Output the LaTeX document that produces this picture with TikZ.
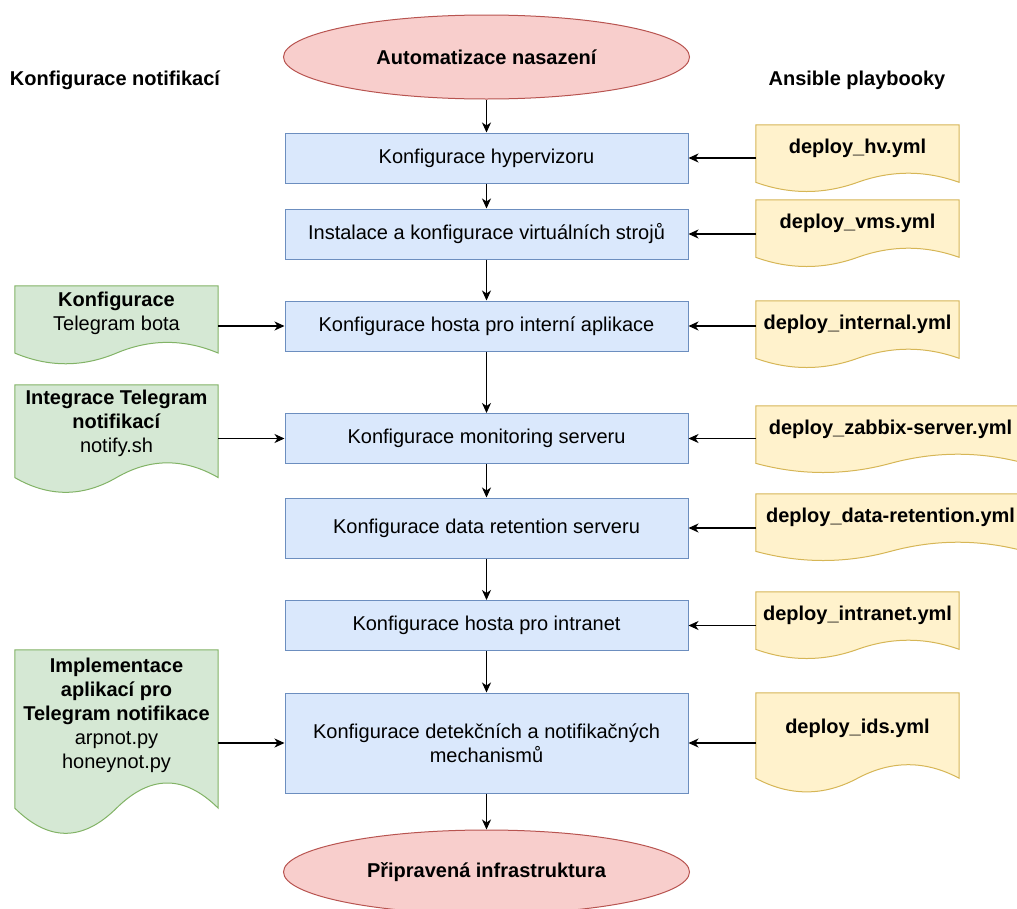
\documentclass[tikz,border=0pt]{standalone}
\usepackage{fontspec}
\setmainfont{Liberation Sans}
\usepackage{xcolor}
\usetikzlibrary{positioning,calc,arrows.meta,shapes.geometric,backgrounds}
\definecolor{stepfill}{HTML}{DAE8FC}
\definecolor{stepline}{HTML}{6C8EBF}
\definecolor{notefill}{HTML}{D5E8D4}
\definecolor{noteline}{HTML}{82B366}
\definecolor{ymlfill}{HTML}{FFF2CC}
\definecolor{ymlline}{HTML}{D6B656}
\definecolor{endfill}{HTML}{F8CECC}
\definecolor{endline}{HTML}{B85450}
\tikzset{
  flowfont/.style={font=\fontsize{20}{24}\selectfont},
  stepbox/.style={draw=stepline, fill=stepfill, line width=1pt, minimum width=403pt,
    minimum height=50pt, inner sep=0pt, align=center},
  startend/.style={ellipse, draw=endline, fill=endfill, line width=1pt, minimum width=406pt,
    minimum height=84pt, inner sep=0pt, font=\fontsize{20}{24}\selectfont\bfseries},
  docarea/.style={inner sep=0pt, align=center, minimum width=203pt},
  ymlfile/.style={docarea, font=\fontsize{20}{24}\selectfont\bfseries},
  notefile/.style={docarea},
  ymlshape/.style={draw=ymlline, fill=ymlfill, line width=1pt},
  noteshape/.style={draw=noteline, fill=notefill, line width=1pt},
  flowarrow/.style={-{Stealth[length=10pt, width=9pt, inset=3pt]}, line width=1.2pt},
  header/.style={font=\fontsize{20}{24}\selectfont\bfseries},
}
% wavy document outline behind a node (node = upper 70% of the shape)
\newcommand{\docoutline}[2]{%
  \path[#2] let \p1=(#1.north west), \p2=(#1.south east),
    \n1={(\y1-\y2)/0.7}, \n2={\x2-\x1} in
    (\x1,\y1) -- (\x2,\y1) -- (\x2,\y1-0.85*\n1)
    .. controls (\x1+0.8333*\n2,\y1-0.67*\n1) and (\x1+0.6667*\n2,\y1-0.67*\n1)
    .. (\x1+0.5*\n2,\y1-0.85*\n1)
    .. controls (\x1+0.3333*\n2,\y1-1.03*\n1) and (\x1+0.1667*\n2,\y1-1.03*\n1)
    .. (\x1,\y1-0.85*\n1) -- cycle;}

\begin{document}
\begin{tikzpicture}[flowfont, x=1pt, y=-1pt]
  \useasboundingbox (0,0) rectangle (1017,908);

  % Headers
  \node[header] (hnotif) at (115,80) {Konfigurace notifikací};
  \node[header] (hansible) at (857,80) {Ansible playbooky};

  % Start / end
  \node[startend] (start) at (486.5,57) {Automatizace nasazení};
  \node[startend] (done) at (486.5,872) {Připravená infrastruktura};

  % Deployment steps
  \node[stepbox] (k1) at (486.5,158) {Konfigurace hypervizoru};
  \node[stepbox] (k2) at (486.5,234) {Instalace a konfigurace virtuálních strojů};
  \node[stepbox] (k3) at (486.5,326) {Konfigurace hosta pro interní aplikace};
  \node[stepbox] (k4) at (486.5,438.5) {Konfigurace monitoring serveru};
  \node[stepbox, minimum height=60pt] (k5) at (486.5,528) {Konfigurace data retention serveru};
  \node[stepbox] (k6) at (486.5,625.5) {Konfigurace hosta pro intranet};
  \node[stepbox, minimum height=100pt] (k7) at (486.5,743)
    {Konfigurace detekčních a notifikačných\\mechanismů};

  % Ansible playbooks
  \node[ymlfile, minimum height=47pt] (yhv) at (857.5,148.5) {deploy\_hv.yml};
  \node[ymlfile, minimum height=47pt] (yvms) at (857.5,223.5) {deploy\_vms.yml};
  \node[ymlfile, minimum height=47pt] (yint) at (857.5,324.5) {deploy\_internal.yml};
  \node[ymlfile, minimum height=47pt, minimum width=269pt] (yzbx) at (890.5,429.5) {deploy\_zabbix-server.yml};
  \node[ymlfile, minimum height=47pt, minimum width=269pt] (yret) at (890.5,517.5) {deploy\_data-retention.yml};
  \node[ymlfile, minimum height=47pt] (ynet) at (857.5,615.5) {deploy\_intranet.yml};
  \node[ymlfile, minimum height=70pt] (yids) at (857.5,728) {deploy\_ids.yml};

  % Notification parts
  \node[notefile, minimum height=55pt] (nbot) at (116.5,313.5)
    {\textbf{Konfigurace}\\Telegram bota};
  \node[notefile, minimum height=76pt] (nsh) at (116.5,423)
    {\textbf{Integrace Telegram}\\\textbf{notifikací}\\notify.sh};
  \node[notefile, minimum height=130pt] (npy) at (116.5,715)
    {\textbf{Implementace}\\\textbf{aplikací pro}\\\textbf{Telegram notifikace}\\arpnot.py\\honeynot.py};

  \begin{pgfonlayer}{background}
    \foreach \d in {yhv,yvms,yint,yzbx,yret,ynet,yids}
      {\docoutline{\d}{ymlshape}}
    \foreach \d in {nbot,nsh,npy}
      {\docoutline{\d}{noteshape}}
  \end{pgfonlayer}

  % Main flow
  \draw[flowarrow] (start) -- (k1);
  \foreach \a/\b in {k1/k2,k2/k3,k3/k4,k4/k5,k5/k6,k6/k7,k7/done}
    \draw[flowarrow] (\a) -- (\b);

  % Playbooks into steps
  \foreach \y/\k in {yhv/k1,yvms/k2,yint/k3,yzbx/k4,yret/k5,ynet/k6,yids/k7}
    \draw[flowarrow] (\y.west |- \k) -- (\k.east);

  % Notification inputs
  \draw[flowarrow] (nbot.east |- k3) -- (k3.west);
  \draw[flowarrow] (nsh.east |- k4) -- (k4.west);
  \draw[flowarrow] (npy.east |- k7) -- (k7.west);
\end{tikzpicture}
\end{document}
